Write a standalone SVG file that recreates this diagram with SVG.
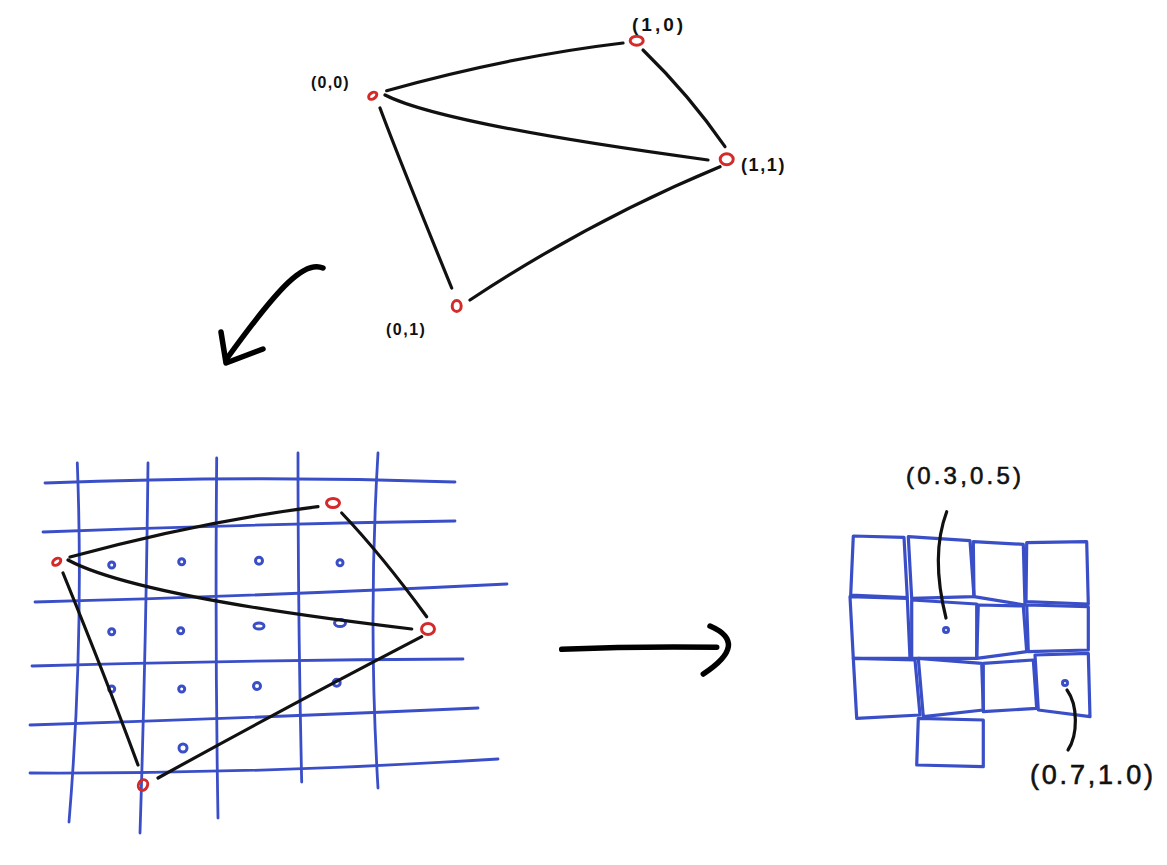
<svg xmlns="http://www.w3.org/2000/svg" width="1167" height="865" viewBox="0 0 1167 865">
<style>
.ink{fill:none;stroke:#111;stroke-width:3.2;stroke-linecap:round;stroke-linejoin:round}
.thick{fill:none;stroke:#000;stroke-width:5.5;stroke-linecap:round;stroke-linejoin:round}
.grid{fill:none;stroke:#3a4fc7;stroke-width:2.8;stroke-linecap:round;stroke-linejoin:round}
.cell{fill:none;stroke:#3a4fc7;stroke-width:3.2;stroke-linejoin:round}
.node{fill:none;stroke:#d42a2a;stroke-width:3}
.dot{fill:none;stroke:#3a4fc7;stroke-width:3}
.lbl{font-family:"Liberation Sans",Arial,sans-serif;fill:#111;font-weight:bold}
.big{font-family:"Liberation Sans",Arial,sans-serif;fill:#111;stroke:#111;stroke-width:0.6}
</style>
<rect width="1167" height="865" fill="#fff"/>

<!-- top graph connectors -->
<g id="top-edges">
<path class="ink" d="M386.7,90.7 Q508.6,56.6 623,43"/>
<path class="ink" d="M385,95 C430,118 560,140 708,160"/>
<path class="ink" d="M643,50 Q689.4,95.1 725,146.7"/>
<path class="ink" d="M380,108 Q397.6,155.4 451.7,288"/>
<path class="ink" d="M470,300 Q591,220.1 720,166.7"/>
</g>

<g id="t00"><ellipse class="node" cx="372.7" cy="95.7" rx="4.5" ry="3" transform="rotate(-35 372.7 95.7)"/><text class="lbl" x="311" y="88" font-size="16" letter-spacing="1.2">(0,0)</text></g>
<g id="t10"><ellipse class="node" cx="636.7" cy="40.7" rx="6.5" ry="4.5"/><text class="lbl" x="632" y="31" font-size="19" letter-spacing="3">(1,0)</text></g>
<g id="t11"><ellipse class="node" cx="726.7" cy="159.3" rx="6.5" ry="5.5"/><text class="lbl" x="741" y="171" font-size="18" letter-spacing="1.6">(1,1)</text></g>
<g id="t01"><ellipse class="node" cx="456.7" cy="306" rx="4.5" ry="5.5"/><text class="lbl" x="386" y="335" font-size="16" letter-spacing="1.5">(0,1)</text></g>

<!-- curved arrow -->
<g id="arrow-down">
<path class="thick" d="M323,268 C305,260 280,285 228,357"/>
<path class="thick" d="M221,332 L226,363 L263,349"/>
</g>

<!-- left grid -->
<g id="grid-lines">
<path class="grid" d="M45,483 Q250,475 455,482"/>
<path class="grid" d="M43,532 Q249,524 455,521"/>
<path class="grid" d="M35,602 Q263,596 507,584"/>
<path class="grid" d="M32,666 Q248,660 463,659"/>
<path class="grid" d="M30,725 Q254,718 478,708"/>
<path class="grid" d="M30,773 Q263,774 498,759"/>
<path class="grid" d="M77.3,463 Q84,640 69,822"/>
<path class="grid" d="M148,463 Q146,645 140,833"/>
<path class="grid" d="M216.7,458 Q215,640 218,818"/>
<path class="grid" d="M298,453 Q298,620 301.7,782"/>
<path class="grid" d="M378,453 Q368,620 378,788"/>
</g>

<g id="sample-dots">
<circle class="dot" cx="111.7" cy="565" r="3"/>
<circle class="dot" cx="181.7" cy="561.7" r="3"/>
<circle class="dot" cx="259" cy="560.7" r="3.5"/>
<circle class="dot" cx="340" cy="562.7" r="3"/>
<circle class="dot" cx="111.7" cy="631.7" r="3"/>
<circle class="dot" cx="180.7" cy="630.7" r="3"/>
<ellipse class="dot" cx="259" cy="626" rx="5" ry="3"/>
<ellipse class="dot" cx="340" cy="623" rx="5.5" ry="3.5"/>
<circle class="dot" cx="111.7" cy="689" r="3"/>
<circle class="dot" cx="181.7" cy="689" r="3"/>
<circle class="dot" cx="257" cy="686" r="3.5"/>
<circle class="dot" cx="336.7" cy="682.7" r="3.5"/>
<circle class="dot" cx="183" cy="748" r="4"/>
</g>

<g id="grid-edges">
<path class="ink" d="M70,557 Q199.4,521.6 318,506.7"/>
<path class="ink" d="M68,560 C120,588 250,610 411.7,629"/>
<path class="ink" d="M341.7,513 Q381.8,555.1 426.7,616.7"/>
<path class="ink" d="M63,573 Q105.5,677 138,765"/>
<path class="ink" d="M158,778 Q276.1,712.6 421.7,636.7"/>
</g>

<g id="g00"><ellipse class="node" cx="56.7" cy="561.7" rx="4.5" ry="3" transform="rotate(-35 56.7 561.7)"/></g>
<g id="g10"><ellipse class="node" cx="333" cy="503" rx="6.5" ry="4.5"/></g>
<g id="g11"><ellipse class="node" cx="428" cy="629" rx="6.5" ry="5.5"/></g>
<g id="g01"><ellipse class="node" cx="143" cy="785" rx="4.5" ry="5.5" transform="rotate(25 143 785)"/></g>

<!-- right arrow -->
<g id="arrow-right">
<path class="thick" d="M561.7,649.3 Q640,646 716.7,647.3"/>
<path class="thick" d="M710,626 Q750,643.3 703.3,674"/>
</g>

<!-- right grid of cells -->
<g id="cells">
<path class="cell" d="M853.3,536 L904,537.3 L907.3,597.7 L850.7,595 Z"/>
<path class="cell" d="M908.3,536.7 L970,540.7 L974,596.7 L911.7,598.3 Z"/>
<path class="cell" d="M973.3,541.7 L1023.3,544.3 L1025,605 L974,596.7 Z"/>
<path class="cell" d="M1026.7,542.7 L1086.7,541.7 L1088.3,604 L1026,601.7 Z"/>
<path class="cell" d="M850,596.7 L907.3,598.3 L910,658.3 L853.3,658.3 Z"/>
<path class="cell" d="M911.7,600 L976.7,604 L976.7,658.3 L911.7,658.3 Z"/>
<path class="cell" d="M978.3,605 L1023.3,606 L1026.7,651.7 L976.7,658.3 Z"/>
<path class="cell" d="M1026.7,605 L1088.3,606.7 L1088.3,650 L1028.3,651.7 Z"/>
<path class="cell" d="M853.3,658.3 L915,660 L920,715 L856.7,718.3 Z"/>
<path class="cell" d="M918.3,658.3 L981.7,663.3 L983.3,710 L923.3,716.7 Z"/>
<path class="cell" d="M983.3,663.3 L1033.3,660 L1036.7,708.3 L983.3,711.7 Z"/>
<path class="cell" d="M1035,655 L1088.3,653.3 L1090,716.7 L1038.3,710 Z"/>
<path class="cell" d="M918.3,718.3 L983.3,720 L983.3,766.7 L916.7,765 Z"/>
</g>

<g id="p1">
<circle class="dot" cx="946" cy="630" r="2.5"/>
<path class="ink" d="M946.7,511.7 Q930.3,555 946,618" stroke-width="2.5"/>
<text class="big" x="906" y="484" font-size="24" letter-spacing="3.2">(0.3,0.5)</text>
</g>
<g id="p2">
<circle class="dot" cx="1065" cy="683" r="2.5"/>
<path class="ink" d="M1067,690 C1078,705 1078,735 1068,750" stroke-width="2.5"/>
<text class="big" x="1030" y="784" font-size="27" letter-spacing="2.8">(0.7,1.0)</text>
</g>
</svg>
